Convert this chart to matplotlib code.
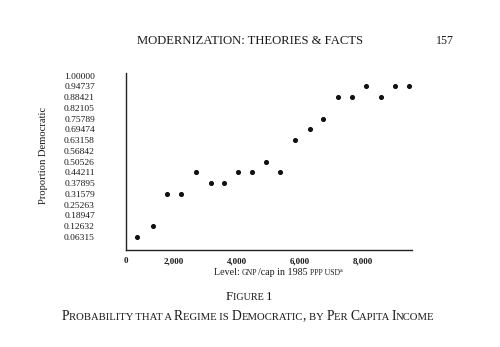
import numpy as np
import matplotlib.pyplot as plt
from matplotlib.font_manager import FontProperties

# GNP per capita (1985 PPP USD), bin positions
income = [850, 1330, 1800, 2240, 2700, 3190, 3600, 4040, 4490, 4940,
          5380, 5850, 6320, 6750, 7220, 7670, 8110, 8570, 9040, 9480]
prop_dem = [0.06315, 0.12632, 0.31579, 0.31579, 0.44211, 0.37895, 0.37895,
            0.44211, 0.44211, 0.50526, 0.44211, 0.63158, 0.69474, 0.75789,
            0.88421, 0.88421, 0.94737, 0.88421, 0.94737, 0.94737]

ytick_labels = ["0.06315", "0.12632", "0.18947", "0.25263", "0.31579",
                "0.37895", "0.44211", "0.50526", "0.56842", "0.63158",
                "0.69474", "0.75789", "0.82105", "0.88421", "0.94737",
                "1.00000"]
xtick_labels = ["0", "2,000", "4,000", "6,000", "8,000"]

SERIF = "Liberation Serif"
INK = "#1a1a1a"
plt.rcParams["font.family"] = SERIF


def advance(s, size):
    # width of a run as the renderer sets it (pixels), spaces included
    r = fig.canvas.get_renderer()
    fp = FontProperties(family=SERIF, size=size)
    w_bar = r.get_text_width_height_descent("|", fp, ismath=False)[0]
    w_all = r.get_text_width_height_descent(s + "|", fp, ismath=False)[0]
    return w_all - w_bar


def smallcap_runs(text, size, ratio=0.78):
    runs = []
    for ch in text:
        if ch == " " and runs:
            runs[-1][1] += ch
            continue
        sz = size * ratio if ch.islower() else size
        if runs and runs[-1][0] == sz:
            runs[-1][1] += ch.upper()
        else:
            runs.append([sz, ch.upper()])
    return [(sz, s, 0) for sz, s in runs]


def draw_line(runs, cx, base_px):
    # runs: (size, text, rise in px); centred at cx (fig fraction),
    # baseline base_px pixels from the top of the figure
    W = fig.get_figwidth() * fig.dpi
    H = fig.get_figheight() * fig.dpi
    total = sum(advance(s, sz) for sz, s, _ in runs)
    x = cx * W - total / 2
    for sz, s, rise in runs:
        fig.text(x / W, (H - base_px + rise) / H, s, fontsize=sz, ha="left",
                 va="baseline", color=INK)
        x += advance(s, sz)


fig = plt.figure(figsize=(5, 3.47), dpi=100)
ax = fig.add_axes([0.251, 0.2795, 0.572, 0.511])

ax.scatter(income, prop_dem, s=7, color="#111111", marker="o", zorder=3)

step = 0.063158
ypos = np.arange(1, len(ytick_labels) + 1) * step
ax.set_yticks(ypos)
ax.set_yticklabels(ytick_labels, fontsize=6.8)
ax.set_ylim(-0.0138, 1.028)

xmin, xmax = 470, 9549
ax.set_xlim(xmin, xmax)
ax.set_xticks([xmin, 2000, 4000, 6000, 8000])
ax.set_xticklabels(xtick_labels, fontsize=6.5, fontweight="bold")

ax.tick_params(length=0, colors=INK)
ax.tick_params(axis="x", pad=5)
ax.tick_params(axis="y", pad=22)
for s in ["top", "right"]:
    ax.spines[s].set_visible(False)
for s in ["left", "bottom"]:
    ax.spines[s].set_linewidth(1.0)
    ax.spines[s].set_color("#222222")

fig.text(0.087, 0.553, "Proportion Democratic", rotation=90, ha="center",
         va="center", fontsize=7.6, color=INK)

# page header
draw_line(smallcap_runs("MODERNIZATION: THEORIES & FACTS", 9.1), 0.5, 44.5)
draw_line([(8.6, "157", 0)], 0.89, 44.5)

# x label with small capitals
draw_line([(7.2, "Level: ", 0), (5.6, "GNP", 0), (7.2, "/cap in 1985 ", 0),
           (5.6, "PPP USD", 0), (4.3, "a", 3.5)], 0.556, 275)

draw_line(smallcap_runs("Figure 1", 9.3), 0.498, 300.5)
draw_line(smallcap_runs("Probability that a Regime is Democratic, by Per Capita Income", 9.8),
          0.496, 319.5)

plt.savefig("out.png", dpi=100)
